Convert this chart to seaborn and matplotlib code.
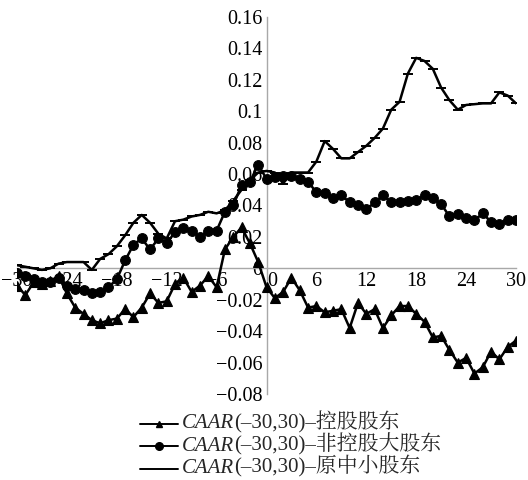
import matplotlib
matplotlib.use("Agg")
import matplotlib.pyplot as plt
import matplotlib.transforms as mtransforms
from matplotlib import font_manager
from matplotlib.lines import Line2D
from matplotlib.offsetbox import DrawingArea, TextArea, HPacker, VPacker, AnchoredOffsetbox
import seaborn as sns

# Event window (trading days relative to the announcement)
days = list(range(-30, 31))

# CAAR of controlling shareholders
controlling = [
    -0.011, -0.017, -0.009, -0.010, -0.008, -0.005, -0.016, -0.025, -0.029, -0.033,
    -0.035, -0.033, -0.032, -0.026, -0.031, -0.025, -0.016, -0.022, -0.021, -0.010,
    -0.006, -0.015, -0.011, -0.005, -0.012, 0.012, 0.020, 0.026, 0.016, 0.004,
    -0.012,
    -0.019, -0.015, -0.006, -0.014, -0.025, -0.024, -0.028, -0.027, -0.026, -0.038,
    -0.022, -0.029, -0.026, -0.038, -0.030, -0.024, -0.024, -0.029, -0.034, -0.044,
    -0.043, -0.052, -0.060, -0.057, -0.067, -0.063, -0.053, -0.058, -0.050, -0.046,
]

# CAAR of non-controlling large shareholders
noncontrolling = [
    -0.003, -0.005, -0.007, -0.009, -0.009, -0.006, -0.011, -0.013, -0.014, -0.016,
    -0.015, -0.012, -0.007, 0.005, 0.015, 0.019, 0.012, 0.019, 0.016, 0.023,
    0.0255, 0.024, 0.020, 0.024, 0.024, 0.036, 0.040, 0.053, 0.055, 0.066,
    0.057,
    0.058, 0.0585, 0.059, 0.057, 0.055, 0.0485, 0.048, 0.045, 0.0465, 0.042,
    0.040, 0.0375, 0.042, 0.0465, 0.042, 0.042, 0.043, 0.0435, 0.0465, 0.0445,
    0.041, 0.033, 0.0345, 0.032, 0.0305, 0.035, 0.0295, 0.0285, 0.031, 0.031,
]

# CAAR of original small and medium shareholders
minority = [
    0.002, 0.001, 0.000, -0.001, 0.000, 0.003, 0.004, 0.004, 0.004, -0.001,
    0.006, 0.009, 0.014, 0.021, 0.029, 0.034, 0.029, 0.022, 0.019, 0.030,
    0.031, 0.033, 0.034, 0.036, 0.035, 0.037, 0.043, 0.050, 0.056, 0.061,
    0.062,
    0.061, 0.054, 0.061, 0.061, 0.061, 0.068, 0.081, 0.076, 0.070, 0.070,
    0.074, 0.078, 0.083, 0.089, 0.101, 0.106, 0.124, 0.134, 0.132, 0.127,
    0.115, 0.107, 0.101, 0.104, 0.1045, 0.105, 0.105, 0.112, 0.110, 0.105,
]

x_ticks = [-30, -24, -18, -12, -6, 0, 6, 12, 18, 24, 30]
x_minor = list(range(-30, 31, 3))
x_tick_labels = ["\u221230", "\u221224", "\u221218", "\u221212", "\u22126",
                 "0", "6", "12", "18", "24", "30"]
y_ticks = [-0.08, -0.06, -0.04, -0.02, 0, 0.02, 0.04, 0.06, 0.08, 0.10, 0.12, 0.14, 0.16]
y_tick_labels = ["\u22120.08", "\u22120.06", "\u22120.04", "\u22120.02", "0",
                 "0.02", "0.04", "0.06", "0.08", "0.1", "0.12", "0.14", "0.16"]

legend_labels = [
    "(\u201330,30)\u2013控股股东",
    "(\u201330,30)\u2013非控股大股东",
    "(\u201330,30)\u2013原中小股东",
]


def first_available(names):
    for name in names:
        try:
            font_manager.findfont(name, fallback_to_default=False)
            return name
        except Exception:
            continue
    return names[-1]


CJK_FONT = first_available(["Noto Serif CJK SC", "Noto Serif SC", "Noto Sans CJK SC"])

sns.set_style("white")
plt.rcParams["font.family"] = ["Liberation Serif", CJK_FONT, "DejaVu Sans"]
plt.rcParams["axes.unicode_minus"] = True

FS = 14.5
LEG_FS = 15
AXIS_GREY = "#a8a8a8"

fig = plt.figure(figsize=(5.28, 4.8), dpi=100)
ax = fig.add_axes([17 / 528, (480 - 394) / 480, (516 - 17) / 528, (394 - 17) / 480])

styles = [
    (controlling, "^", 7.0, 0.8),
    (noncontrolling, "o", 7.0, 0.8),
    (minority, "_", 7.0, 1.4),
]
for vals, mk, ms, mew in styles:
    sns.lineplot(x=days, y=vals, ax=ax, color="black", linewidth=1.8,
                 marker=mk, markersize=ms, markeredgecolor="black",
                 markerfacecolor="black", markeredgewidth=mew,
                 legend=False, zorder=3)

ax.set_xlim(-30, 30)
ax.set_ylim(-0.08, 0.16)
ax.set_xlabel("")
ax.set_ylabel("")

for side in ("top", "right"):
    ax.spines[side].set_visible(False)
ax.spines["left"].set_position(("data", 0))
ax.spines["bottom"].set_position(("data", 0))
for side in ("left", "bottom"):
    ax.spines[side].set_color(AXIS_GREY)
    ax.spines[side].set_linewidth(1.0)

ax.set_xticks(x_ticks)
ax.set_xticklabels(x_tick_labels)
ax.set_xticks(x_minor, minor=True)
ax.set_yticks(y_ticks)
ax.set_yticklabels(y_tick_labels)

ax.tick_params(axis="both", which="both", direction="in", color=AXIS_GREY,
               width=1.0, labelsize=FS, labelcolor="black")
ax.tick_params(axis="both", which="major", length=4, pad=3)
ax.tick_params(axis="x", which="minor", length=4)
ax.tick_params(axis="y", which="minor", length=0)

# Nudge the "0" label on the x-axis to the right of the vertical spine
for lbl in ax.get_xticklabels():
    if lbl.get_text() == "0":
        lbl.set_transform(lbl.get_transform() +
                          mtransforms.ScaledTranslation(6 / 100, 0, fig.dpi_scale_trans))

# Legend built from packed boxes so "CAAR" can be italic
markers = [("^", 5.0), ("o", 5.5), (None, 0)]
rows = []
for (mk, ms), lab in zip(markers, legend_labels):
    da = DrawingArea(27, 12, 0, 0)
    da.add_artist(Line2D([0, 27], [4.5, 4.5], color="black", linewidth=1.4))
    if mk is not None:
        da.add_artist(Line2D([13.5], [4.5], marker=mk, markersize=ms,
                             color="black", linestyle="none"))
    t1 = TextArea("CAAR", textprops=dict(size=LEG_FS, style="italic",
                                         family=["Liberation Serif"]))
    t2 = TextArea(lab, textprops=dict(size=LEG_FS,
                                      family=["Liberation Serif", CJK_FONT]))
    label_box = HPacker(children=[t1, t2], align="baseline", pad=0, sep=0)
    rows.append(HPacker(children=[da, label_box], align="center", pad=0, sep=3))
legend_box = VPacker(children=rows, align="left", pad=0, sep=0)
anchored = AnchoredOffsetbox(loc="upper left", child=legend_box, pad=0, borderpad=0,
                             frameon=False,
                             bbox_to_anchor=(140 / 528, 1 - 411 / 480),
                             bbox_transform=fig.transFigure)
fig.add_artist(anchored)

fig.savefig("out.png", dpi=100, facecolor="white")
